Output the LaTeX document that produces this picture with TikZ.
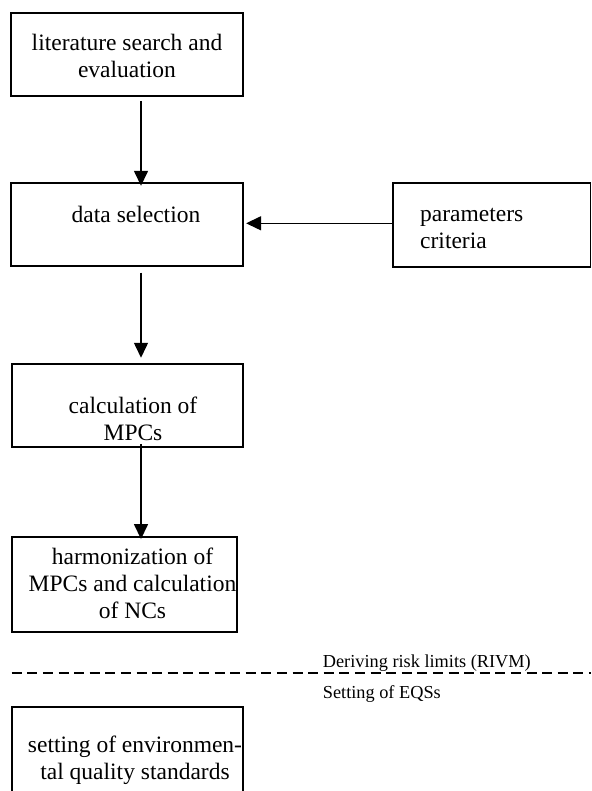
\documentclass[tikz,border=0pt]{standalone}
\usepackage{fontspec}
\setmainfont{Liberation Serif}
\usetikzlibrary{arrows.meta}
\tikzset{
  boxnode/.style={draw=black, line width=1.9pt, inner sep=0pt, rectangle},
  txt/.style={inner sep=0pt, align=center, font=\fontsize{23.5}{27}\selectfont},
  ltxt/.style={inner sep=0pt, align=left, anchor=west, font=\fontsize{23.5}{27}\selectfont},
  smalltxt/.style={inner sep=0pt, anchor=west, font=\fontsize{18.3}{21}\selectfont},
  arr/.style={line width=1.5pt, -{Triangle[length=15pt,width=14pt]}},
}
\begin{document}
\begin{tikzpicture}[x=1pt,y=-1pt]
\useasboundingbox (0,0) rectangle (591,791);
\begin{scope}
\clip (0,0) rectangle (591,791);
% boxes
\node[boxnode, minimum width=232pt, minimum height=83.3pt] (lit) at (127,54.3) {};
\node[boxnode, minimum width=231.7pt, minimum height=83.3pt] (data) at (126.9,224.4) {};
\node[boxnode, minimum width=197.2pt, minimum height=84pt] (param) at (491.9,224.7) {};
\node[boxnode, minimum width=231pt, minimum height=83pt] (calc) at (127.2,405.5) {};
\node[boxnode, minimum width=225.3pt, minimum height=95pt] (harm) at (124.35,584.5) {};
\node[boxnode, minimum width=231pt, minimum height=93.3pt] (eqs) at (127.2,753.35) {};
% texts
\node[txt] (littxt) at (127,56) {literature search and\\evaluation};
\node[txt] (datatxt) at (136,214) {data selection};
\node[ltxt] (paramtxt) at (420,229) {parameters\\criteria};
\node[txt] (calctxt) at (133,418.5) {calculation of\\MPCs};
\node[txt] (harmtxt) at (132.5,583) {harmonization of\\MPCs and calculation\\of NCs};
\node[txt] (eqstxt) at (135,760) {setting of environmen-\\tal quality standards};
\node[smalltxt] (rivm) at (322.7,663) {Deriving risk limits (RIVM)};
\node[smalltxt] (seteqs) at (322.7,694) {Setting of EQSs};
% dashed separator
\coordinate (dl) at (11.7,673.2);
\coordinate (dr) at (591,673.2);
\draw[line width=1.8pt, dash pattern=on 10pt off 5.6pt] (dl) -- (dr);
% arrows
\draw[arr] ([xshift=14pt,yshift=-4pt]lit.south) -- ([xshift=14.1pt,yshift=-4pt]data.north);
\draw[arr] ([xshift=14.1pt,yshift=-5.7pt]data.south) -- ([xshift=13.8pt,yshift=5.3pt]calc.north);
\draw[arr] ([xshift=13.8pt,yshift=4pt]calc.south) -- ([xshift=16.65pt,yshift=-3pt]harm.north);
\draw[arr] (param.west |- 0,223.3) -- ([xshift=2.4pt]data.east |- 0,223.3);
\end{scope}
\end{tikzpicture}
\end{document}
